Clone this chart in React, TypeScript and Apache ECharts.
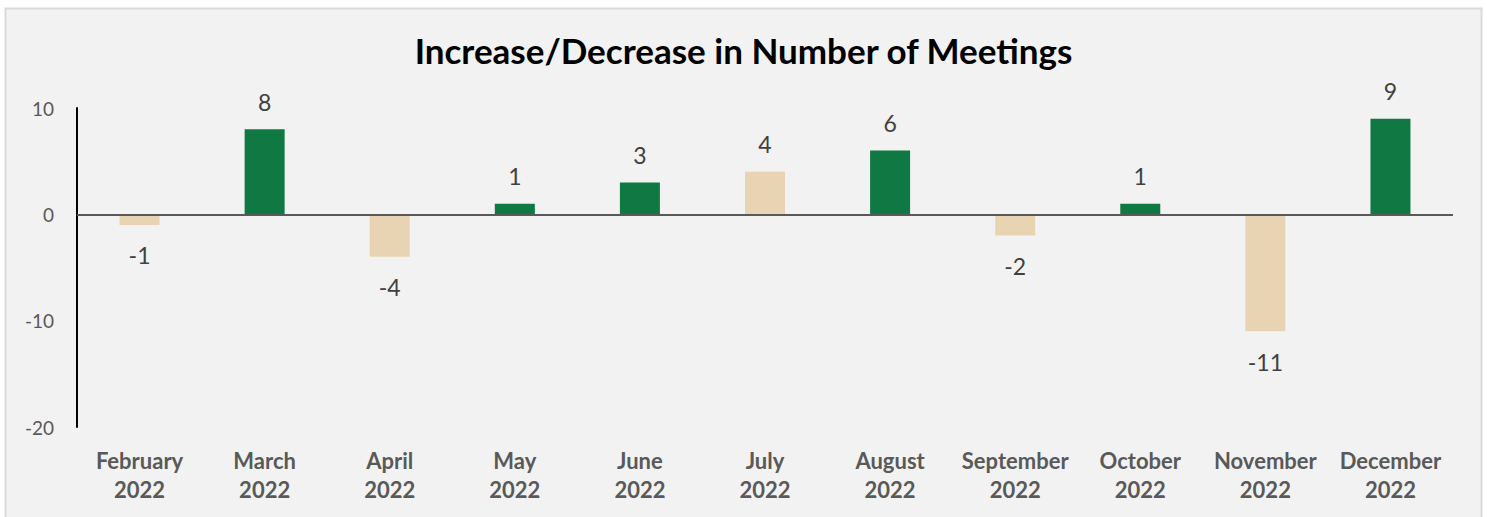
import React, { useEffect, useRef } from "react";
import * as echarts from "echarts";

const categories = [
  "February\n2022", "March\n2022", "April\n2022", "May\n2022", "June\n2022", "July\n2022",
  "August\n2022", "September\n2022", "October\n2022", "November\n2022", "December\n2022",
];
const values = [-1, 8, -4, 1, 3, 4, 6, -2, 1, -11, 9];
const barColors = [
  "#e8d4b2", "#107843", "#e8d4b2", "#107843", "#107843", "#e8d4b2",
  "#107843", "#e8d4b2", "#107843", "#e8d4b2", "#107843",
];
const yTicks = { min: -20, max: 10, interval: 10 };
const title = "Increase/Decrease in Number of Meetings";

export default function App() {
  const ref = useRef<HTMLDivElement>(null);
  useEffect(() => {
    const chart = echarts.init(ref.current!, null, { renderer: "svg" });
    chart.setOption({
      animation: false,
      backgroundColor: "#ffffff",
      graphic: [
        {
          type: "rect",
          z: -10,
          shape: { x: 5.5, y: 8.5, width: 1476, height: 520 },
          style: { fill: "#f2f2f2", stroke: "#d9d9d9", lineWidth: 2 },
          silent: true,
        },
      ],
      title: {
        text: title,
        left: "center",
        top: 27,
        textStyle: { fontFamily: "Lato", fontWeight: "bold", fontSize: 35, color: "#000000" },
      },
      grid: { left: 77, right: 34, top: 108, bottom: 90 },
      xAxis: {
        type: "category",
        data: categories,
        axisLine: { show: false, onZero: false },
        axisTick: { show: false },
        axisLabel: {
          margin: 19,
          fontFamily: "Lato",
          fontWeight: "bold",
          fontSize: 22,
          lineHeight: 29,
          color: "#595959",
          interval: 0,
        },
      },
      yAxis: {
        type: "value",
        min: yTicks.min,
        max: yTicks.max,
        interval: yTicks.interval,
        axisLine: { show: true, lineStyle: { color: "#000000", width: 2 } },
        axisTick: { show: false },
        splitLine: { show: false },
        axisLabel: { margin: 23, fontFamily: "Lato", fontSize: 19, color: "#595959" },
      },
      series: [
        {
          type: "bar",
          barWidth: 40,
          data: values.map((v, i) => ({
            value: v,
            itemStyle: { color: barColors[i] },
            label: v < 0 ? { position: "bottom", distance: 19 } : { position: "top", distance: 16 },
          })),
          label: {
            show: true,
            fontFamily: "Lato",
            fontSize: 23,
            color: "#404040",
          },
          markLine: {
            silent: true,
            symbol: "none",
            label: { show: false },
            lineStyle: { color: "#595959", width: 2, type: "solid" },
            data: [{ yAxis: 0 }],
          },
        },
      ],
    });
    return () => chart.dispose();
  }, []);
  return (
    <div
      ref={ref}
      style={{ position: "fixed", left: 0, top: 0, width: 1487, height: 517 }}
    />
  );
}
